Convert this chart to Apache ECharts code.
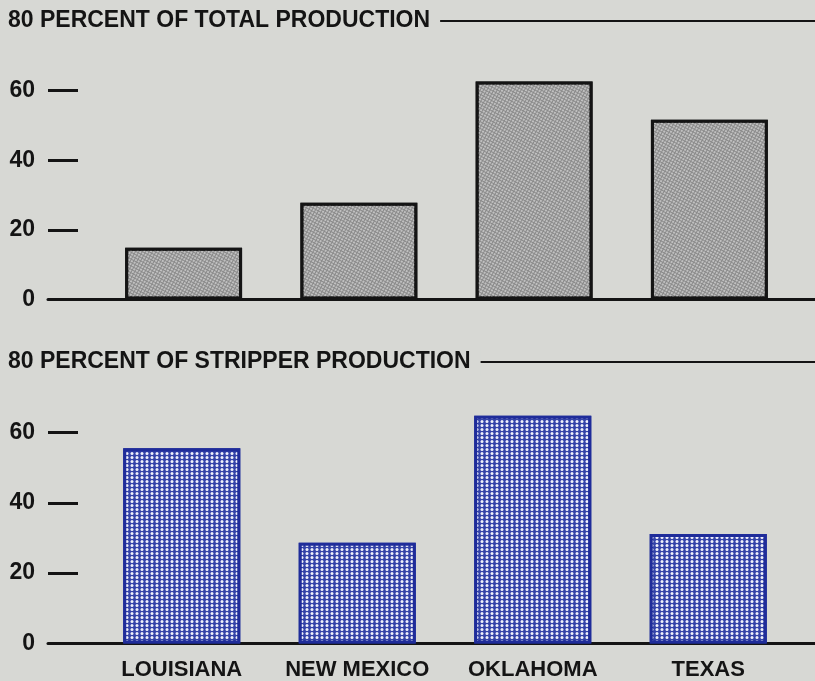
<!DOCTYPE html>
<html>
<head>
<meta charset="utf-8">
<script src="https://cdn.jsdelivr.net/npm/echarts@6/dist/echarts.min.js"></script>
<style>
html,body{margin:0;padding:0;background:#d7d8d4;}
#chart{width:815px;height:681px;}
</style>
</head>
<body>
<div id="chart"></div>
<script>
// ---- data ----
const categories = ['LOUISIANA', 'NEW MEXICO', 'OKLAHOMA', 'TEXAS'];
const totalProductionShare = [14.9, 27.8, 62.6, 51.6];
const stripperProductionShare = [55.5, 28.6, 64.7, 31.1];
const yTickValues = [0, 20, 40, 60, 80];
const panelTitles = ['80 PERCENT OF TOTAL PRODUCTION', '80 PERCENT OF STRIPPER PRODUCTION'];

// ---- styling ----
const BG = '#d7d8d4';
const INK = '#141414';
const FONT = 'Liberation Sans, Arial, Helvetica, sans-serif';
const yMin = yTickValues[0], yMax = yTickValues[yTickValues.length - 1];
const yStep = yTickValues[1] - yTickValues[0];

const panels = [
  {top: 21, height: 278.5, barLeft: 96, barRight: 18},
  {top: 362, height: 281.5, barLeft: 94, barRight: 19}
];

const chart = echarts.init(document.getElementById('chart'), null, {renderer: 'canvas'});

const grid = [], xAxis = [], yAxis = [], title = [];
panels.forEach((p, i) => {
  grid.push({left: p.barLeft, right: p.barRight, top: p.top, height: p.height,
             containLabel: false, outerBoundsMode: 'none'});
  grid.push({left: 48, right: 0, top: p.top, height: p.height,
             containLabel: false, outerBoundsMode: 'none'});
  const gBar = i * 2, gFrame = i * 2 + 1;
  xAxis.push({
    type: 'category', gridIndex: gBar, data: categories,
    axisLine: {show: false}, axisTick: {show: false},
    axisLabel: {show: i === 1, interval: 0, color: INK, fontFamily: FONT, fontWeight: 'bold', fontSize: 22, margin: 15}
  });
  xAxis.push({
    type: 'value', gridIndex: gFrame, position: 'bottom', min: 0, max: 1,
    axisLine: {show: true, lineStyle: {color: INK, width: 3}},
    axisTick: {show: false}, axisLabel: {show: false}, splitLine: {show: false}
  });
  xAxis.push({
    type: 'value', gridIndex: gFrame, position: 'top', min: 0, max: 1,
    axisLine: {show: true, lineStyle: {color: INK, width: 2}},
    axisTick: {show: false}, axisLabel: {show: false}, splitLine: {show: false}
  });
  yAxis.push({type: 'value', gridIndex: gBar, min: yMin, max: yMax, interval: yStep, show: false});
  yAxis.push({
    type: 'value', gridIndex: gFrame, min: yMin, max: yMax, interval: yStep,
    axisLine: {show: false},
    axisTick: {show: true, inside: true, length: 30, lineStyle: {color: INK, width: 3}},
    splitLine: {show: false},
    axisLabel: {
      color: INK, fontFamily: FONT, fontWeight: 'bold', fontSize: 23, margin: 13,
      formatter: v => (v === yMax ? '' : String(v))
    }
  });
  title.push({
    text: panelTitles[i], left: 3, top: p.top - 14,
    padding: [0, 10, 0, 5], backgroundColor: BG, z: 10,
    textStyle: {color: INK, fontFamily: FONT, fontWeight: 'bold', fontSize: 23, lineHeight: 28}
  });
});

const option = {
  backgroundColor: BG,
  animation: false,
  aria: {enabled: true, decal: {show: true}},
  title, grid, xAxis, yAxis,
  series: [
    {
      type: 'bar', xAxisIndex: 0, yAxisIndex: 0, data: totalProductionShare,
      barWidth: '66.7%',
      itemStyle: {
        color: '#8a8a8a', borderColor: INK, borderWidth: 3,
        decal: {symbol: 'circle', symbolSize: 0.95, color: 'rgba(235,235,235,0.8)',
                dashArrayX: [2, 1], dashArrayY: [2, 1], rotation: 0.5}
      }
    },
    {
      type: 'bar', xAxisIndex: 3, yAxisIndex: 2, data: stripperProductionShare,
      barWidth: '66.7%',
      itemStyle: {
        color: '#3443a8', borderColor: '#1f2c9a', borderWidth: 3,
        decal: {symbol: 'circle', symbolSize: 1, color: 'rgba(250,250,255,0.95)',
                dashArrayX: [3.2, 1], dashArrayY: [2.8, 1], rotation: 0}
      }
    }
  ]
};
chart.setOption(option);
</script>
</body>
</html>
